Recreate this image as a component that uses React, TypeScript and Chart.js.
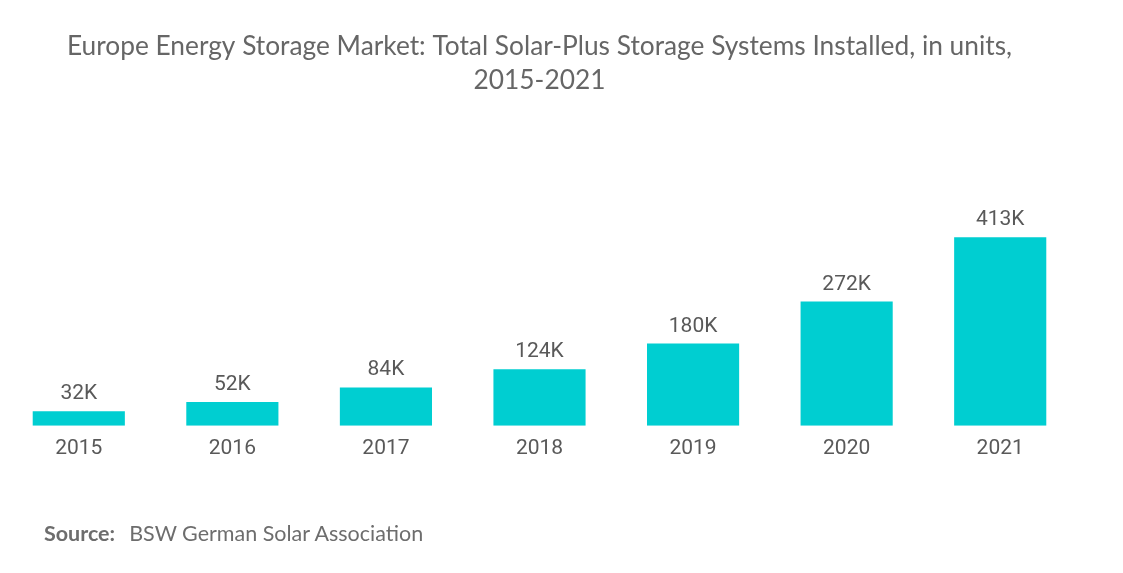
import React, { useEffect, useRef } from "react";
import { Chart, registerables } from "chart.js";

Chart.register(...registerables);

const categories = ["2015", "2016", "2017", "2018", "2019", "2020", "2021"];
const values = [32, 52, 84, 124, 180, 272, 413];
const valueSuffix = "K";
const titleLines = [
  "Europe Energy Storage Market: Total Solar-Plus Storage Systems Installed, in units,",
  "2015-2021",
];
const sourceLabel = "Source:";
const sourceText = "BSW German Solar Association";

const barColor = "#00CED1";
const textColor = "#595959";

const dataLabelPlugin = {
  id: "dataLabels",
  afterDatasetsDraw(chart: any) {
    const ctx = chart.ctx;
    const meta = chart.getDatasetMeta(0);
    ctx.save();
    ctx.font = "21px Roboto";
    ctx.fillStyle = textColor;
    ctx.textAlign = "center";
    ctx.textBaseline = "alphabetic";
    meta.data.forEach((bar: any, i: number) => {
      const v = chart.data.datasets[0].data[i];
      ctx.fillText(v + valueSuffix, bar.x, bar.y - 12);
    });
    ctx.restore();
  },
};

export default function App() {
  const canvasRef = useRef<HTMLCanvasElement | null>(null);

  useEffect(() => {
    document.body.style.margin = "0";
    const canvas = canvasRef.current;
    if (!canvas) return;
    const chart = new Chart(canvas, {
      type: "bar",
      data: {
        labels: categories,
        datasets: [
          {
            data: values,
            backgroundColor: barColor,
            borderWidth: 0,
            barPercentage: 0.6,
            categoryPercentage: 1,
          },
        ],
      },
      options: {
        animation: false,
        responsive: false,
        maintainAspectRatio: false,
        layout: { padding: { left: 2, right: 46, top: 0, bottom: 102 } },
        plugins: {
          legend: { display: false },
          tooltip: { enabled: false },
          title: {
            display: true,
            text: titleLines,
            color: "#666666",
            font: { family: "Lato", size: 26.3, weight: "normal", lineHeight: 1.27 },
            padding: { top: 30, bottom: 55 },
          },
        },
        scales: {
          x: {
            grid: { display: false, drawTicks: false },
            border: { display: false },
            ticks: {
              color: textColor,
              font: { family: "Roboto", size: 21 },
              padding: 10,
            },
          },
          y: {
            display: false,
            min: 0,
            max: 600,
          },
        },
      },
      plugins: [dataLabelPlugin],
    });
    return () => chart.destroy();
  }, []);

  return (
    <div style={{ position: "relative", width: 1123, height: 573, background: "#fff" }}>
      <canvas ref={canvasRef} width={1123} height={573} style={{ position: "absolute", left: 0, top: 0 }} />
      <div
        style={{
          position: "absolute",
          left: 44,
          top: 520,
          fontFamily: "Lato",
          fontSize: 21.5,
          color: "#6d6d6d",
          whiteSpace: "nowrap",
        }}
      >
        <span style={{ fontWeight: "bold" }}>{sourceLabel}</span>
        <span style={{ marginLeft: 14 }}>{sourceText}</span>
      </div>
    </div>
  );
}
